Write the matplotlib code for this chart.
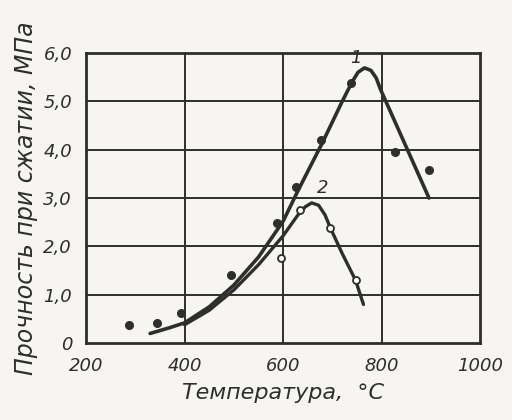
import matplotlib
matplotlib.use("Agg")
import matplotlib.pyplot as plt

# curve 1: fitted line and measured points (filled dots)
c1_x = [330, 370, 400, 450, 500, 550, 600, 630, 680, 720, 740, 752, 765, 778, 789, 797, 896]
c1_y = [0.2, 0.32, 0.42, 0.75, 1.2, 1.78, 2.52, 3.15, 4.15, 5.0, 5.4, 5.6, 5.69, 5.64, 5.48, 5.26, 3.0]
p1_x = [288, 345, 393, 494, 588, 626, 676, 737, 827, 896]
p1_y = [0.37, 0.41, 0.62, 1.41, 2.48, 3.23, 4.2, 5.38, 3.95, 3.58]

# curve 2: fitted line and measured points (open circles)
c2_x = [400, 450, 500, 550, 600, 630, 645, 658, 672, 685, 696, 720, 747, 763]
c2_y = [0.38, 0.68, 1.1, 1.62, 2.22, 2.65, 2.82, 2.9, 2.85, 2.65, 2.38, 1.85, 1.3, 0.8]
p2_x = [596, 634, 696, 747]
p2_y = [1.76, 2.75, 2.38, 1.30]

x_ticks = [200, 400, 600, 800, 1000]
x_labels = ["200", "400", "600", "800", "1000"]
y_ticks = [0, 1, 2, 3, 4, 5, 6]
y_labels = ["0", "1,0", "2,0", "3,0", "4,0", "5,0", "6,0"]

ink = "#2e2e2e"
paper = "#f6f5f1"

fig = plt.figure(figsize=(5.12, 4.2), dpi=100, facecolor=paper)
ax = fig.add_axes([0.168, 0.183, 0.77, 0.691], facecolor=paper)

for v in (400, 600, 800):
    ax.axvline(v, color=ink, lw=1.4, zorder=1)
for h in (1, 2, 3, 4, 5):
    ax.axhline(h, color=ink, lw=1.4, zorder=1)

ax.plot(c1_x, c1_y, color=ink, lw=2.6, zorder=3, solid_capstyle="round", solid_joinstyle="round")
ax.plot(c2_x, c2_y, color=ink, lw=2.4, zorder=3, solid_capstyle="round", solid_joinstyle="round")
ax.plot(p1_x, p1_y, "o", ms=5.5, color=ink, zorder=4)
ax.plot(p2_x, p2_y, "o", ms=5, mfc="white", mec=ink, mew=1.3, zorder=4)

ax.text(747, 5.9, "1", fontsize=13, style="italic", color=ink, ha="center", va="center")
ax.text(680, 3.2, "2", fontsize=13, style="italic", color=ink, ha="center", va="center")

ax.set_xlim(200, 1000)
ax.set_ylim(0, 6)
ax.set_xticks(x_ticks)
ax.set_xticklabels(x_labels)
ax.set_yticks(y_ticks)
ax.set_yticklabels(y_labels)
ax.tick_params(length=0, pad=10, labelsize=13, colors=ink)
for lab in ax.get_xticklabels() + ax.get_yticklabels():
    lab.set_style("italic")
for s in ax.spines.values():
    s.set_linewidth(2.0)
    s.set_color(ink)

ax.set_xlabel("Температура,  °С", fontsize=16, style="italic", color=ink, labelpad=6)
ax.set_ylabel("Прочность при сжатии, МПа", fontsize=17, style="italic", color=ink, labelpad=4)

fig.savefig("out.png", dpi=100, facecolor=paper)
